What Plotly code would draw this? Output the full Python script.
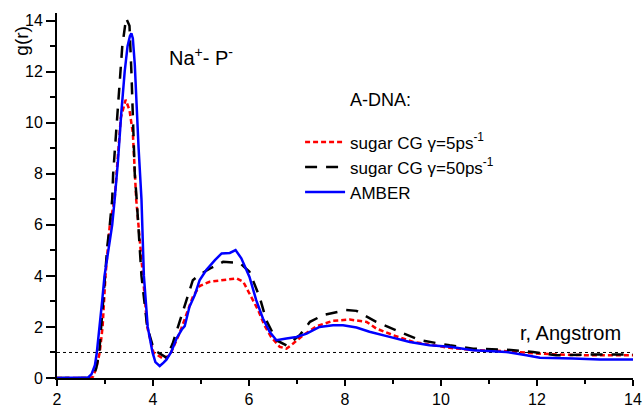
import plotly.graph_objects as go

# AMBER (blue solid)
r_amber = [2.0, 2.6, 2.65, 2.72, 2.79, 2.83, 2.89, 2.94, 2.99, 3.05, 3.1, 3.15, 3.2, 3.27, 3.34, 3.41,
           3.47, 3.52, 3.55, 3.58, 3.62, 3.65, 3.7, 3.76, 3.81, 3.89, 3.99, 4.05, 4.14, 4.22, 4.28,
           4.38, 4.49, 4.6, 4.66, 4.76, 4.87, 4.97, 5.11, 5.29, 5.43, 5.6, 5.72, 5.84, 6.01, 6.15,
           6.29, 6.43, 6.57, 6.78, 6.99, 7.2, 7.47, 7.75, 7.96, 8.24, 8.51, 8.93, 9.35, 9.76, 10.18,
           10.67, 11.36, 11.78, 12.06, 12.75, 13.31, 14.0]
g_amber = [0.0, 0.0, 0.02, 0.15, 0.5, 1.0, 2.0, 3.0, 4.0, 4.8, 5.3, 6.0, 6.97, 8.5, 10.4, 12.0,
           13.0, 13.4, 13.5, 13.3, 12.3, 10.9, 9.0, 7.0, 4.0, 2.0, 1.0, 0.62, 0.47, 0.6, 0.72,
           1.02, 1.55, 1.9, 2.03, 2.79, 3.25, 3.83, 4.23, 4.62, 4.88, 4.9, 5.01, 4.69, 3.96, 3.05,
           2.33, 1.81, 1.48, 1.55, 1.61, 1.74, 2.0, 2.07, 2.07, 1.98, 1.81, 1.61, 1.41, 1.28, 1.22,
           1.09, 1.02, 0.89, 0.79, 0.76, 0.72, 0.72]

# sugar CG gamma=50 (black dashed)
r_cg50 = [2.0, 2.7, 2.75, 2.82, 2.88, 2.92, 2.99, 3.05, 3.1, 3.15, 3.17, 3.24, 3.32, 3.36, 3.44,
          3.51, 3.55, 3.58, 3.62, 3.66, 3.76, 3.88, 4.02, 4.28, 4.41, 4.83, 4.97, 5.2, 5.46, 5.81,
          6.01, 6.22, 6.36, 6.57, 6.78, 7.06, 7.27, 7.54, 8.02, 8.24, 8.65, 9.14, 9.56, 10.18,
          10.67, 11.36, 11.92, 12.4, 13.1, 14.0]
g_cg50 = [0.0, 0.0, 0.05, 0.4, 1.0, 2.0, 4.0, 5.2, 6.0, 7.0, 8.0, 10.0, 12.0, 13.0, 14.1,
          13.8, 12.0, 10.0, 8.0, 7.0, 4.0, 2.0, 1.1, 0.8, 1.35, 3.83, 4.05, 4.3, 4.55, 4.51,
          4.16, 3.18, 2.26, 1.48, 1.28, 1.68, 2.2, 2.46, 2.66, 2.63, 2.2, 1.81, 1.48, 1.28,
          1.15, 1.11, 1.02, 0.89, 0.92, 0.92]

# sugar CG gamma=5 (red dotted)
r_cg5 = [2.0, 2.7, 2.75, 2.82, 2.89, 2.95, 3.01, 3.1, 3.2, 3.27, 3.33, 3.43, 3.51, 3.58, 3.62,
         3.65, 3.79, 3.88, 4.01, 4.21, 4.35, 4.55, 4.83, 4.97, 5.18, 5.46, 5.74, 5.88, 6.01,
         6.19, 6.32, 6.46, 6.64, 6.78, 6.92, 7.13, 7.41, 7.75, 8.1, 8.45, 8.65, 9.0, 9.42,
         9.83, 10.18, 10.67, 11.36, 11.92, 12.4, 13.1, 14.0]
g_cg5 = [0.0, 0.0, 0.05, 0.4, 1.0, 2.0, 4.0, 6.0, 7.0, 8.9, 10.2, 10.9, 10.5, 9.6, 8.0,
         7.0, 4.0, 2.0, 1.0, 0.76, 0.89, 1.74, 3.18, 3.6, 3.77, 3.83, 3.9, 3.77, 3.31,
         2.66, 2.07, 1.61, 1.22, 1.15, 1.35, 1.68, 2.03, 2.24, 2.29, 2.2, 1.94, 1.68, 1.41,
         1.28, 1.18, 1.1, 1.05, 0.97, 0.92, 0.89, 0.89]

ref_r = [2.0, 14.0]
ref_g = [1.0, 1.0]

x_ticks = [2, 4, 6, 8, 10, 12, 14]
y_ticks = [0, 2, 4, 6, 8, 10, 12, 14]

FONT = "Arial"

fig = go.Figure()
fig.add_trace(go.Scatter(x=ref_r, y=ref_g, mode="lines", showlegend=False,
                         line=dict(color="black", width=1, dash="3px,3px"), hoverinfo="skip"))
fig.add_trace(go.Scatter(x=r_cg5, y=g_cg5, mode="lines", name="sugar CG γ=5ps<sup>-1</sup>",
                         line=dict(color="#ff0000", width=2.5, dash="5px,3px")))
fig.add_trace(go.Scatter(x=r_cg50, y=g_cg50, mode="lines", name="sugar CG γ=50ps<sup>-1</sup>",
                         line=dict(color="black", width=2.5, dash="12px,9px")))
fig.add_trace(go.Scatter(x=r_amber, y=g_amber, mode="lines", name="AMBER",
                         line=dict(color="#0000ff", width=2.5)))

fig.update_layout(
    width=644, height=408,
    margin=dict(l=57, r=11, t=13, b=30, autoexpand=False),
    paper_bgcolor="white", plot_bgcolor="white",
    font=dict(family=FONT, size=16, color="black"),
    showlegend=True,
    legend=dict(x=0.422, y=0.695, xanchor="left", yanchor="top",
                bgcolor="rgba(0,0,0,0)", font=dict(size=17, family=FONT),
                tracegroupgap=0, itemwidth=40),
    xaxis=dict(range=[2, 14], tickvals=x_ticks, showgrid=False, zeroline=False,
               automargin=False,
               showline=True, linecolor="black", linewidth=2,
               ticks="outside", ticklen=6, tickwidth=2, tickcolor="black",
               minor=dict(dtick=1, ticks="outside", ticklen=4, tickwidth=2, tickcolor="black"),
               tickfont=dict(size=16, family=FONT)),
    yaxis=dict(range=[0, 14.3], tickvals=y_ticks, showgrid=False, zeroline=False,
               automargin=False,
               showline=True, linecolor="black", linewidth=2,
               ticks="outside", ticklen=9, tickwidth=2, tickcolor="black",
               minor=dict(dtick=1, ticks="outside", ticklen=5, tickwidth=2, tickcolor="black"),
               tickfont=dict(size=16, family=FONT)),
    annotations=[
        dict(text="g(r)", xref="paper", yref="paper", x=-0.062, y=0.925, textangle=-90,
             showarrow=False, font=dict(size=19), xanchor="center", yanchor="middle"),
        dict(text="Na<sup>+</sup>- P<sup>-</sup>", xref="paper", yref="paper",
             x=(167 - 57.3) / 576, y=(377.7 - 56) / 364.7, showarrow=False,
             font=dict(size=20), xanchor="left", yanchor="middle"),
        dict(text="A-DNA:", xref="paper", yref="paper",
             x=(348 - 57.3) / 576, y=(377.7 - 100) / 364.7, showarrow=False,
             font=dict(size=18), xanchor="left", yanchor="middle"),
        dict(text="r, Angstrom", xref="paper", yref="paper",
             x=(518 - 57.3) / 576, y=(377.7 - 333) / 364.7, showarrow=False,
             font=dict(size=20), xanchor="left", yanchor="middle"),
    ],
)

post = "document.body.style.margin='0';document.body.style.padding='0';"

fig.write_html("out.html", config={"displayModeBar": False}, post_script=post)
